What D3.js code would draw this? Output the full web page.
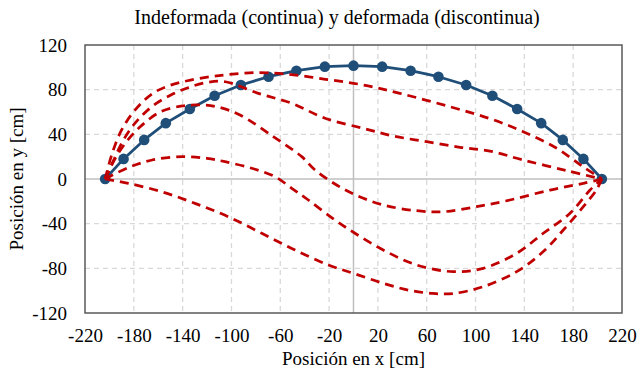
<!DOCTYPE html>
<html>
<head>
<meta charset="utf-8">
<script src="https://cdn.jsdelivr.net/npm/d3@7"></script>
<style>
  body { margin: 0; background: #ffffff; }
  svg text { font-family: "Times New Roman", "Liberation Serif", Times, "DejaVu Serif", serif; fill: #000; }
</style>
</head>
<body>
<svg id="chart" width="637" height="372"></svg>
<script>
const FONT = '"Times New Roman", "Liberation Serif", Times, "DejaVu Serif", serif';

// Axis ticks
const xTicks = [-220, -180, -140, -100, -60, -20, 20, 60, 100, 140, 180, 220];
const yTicks = [-120, -80, -40, 0, 40, 80, 120];

// Undeformed arch (nodes), in cm
const indefX = [-203.5, -188.4, -171.5, -153.8, -134.1, -113.8, -92.3, -69.6, -46.8, -23.5, 0,
                 23.5, 46.8, 69.6, 92.3, 113.8, 134.1, 153.8, 171.5, 188.4, 203.5];
const indefY = [0, 18, 35, 50, 62.7, 74.6, 84.2, 91.6, 97, 100.6, 101.5,
                100.6, 97, 91.6, 84.2, 74.6, 62.7, 50, 35, 18, 0];

// Deformed shapes (x, y) in cm
const deformada1 = [[-203.5, 0], [-198, 22], [-190, 44], [-178, 63], [-164, 77], [-150, 84], [-136, 88],
  [-118, 91.5], [-103, 93.5], [-81, 95.2], [-55, 94], [-23, 89.3], [8, 84.2], [38, 76.7], [79, 64.7],
  [112, 54], [139, 42.4], [166.5, 27.5], [188, 11], [203.5, 0]];
const deformada2 = [[-203.5, 0], [-196, 18], [-189, 34], [-179, 50], [-165, 65], [-150, 75], [-135, 82],
  [-120, 86.5], [-105, 87.1], [-78, 76.7], [-50.6, 67.8], [-23.3, 54.4], [8, 45.4], [32.6, 38.5],
  [60, 33.4], [87.3, 28.4], [111.8, 25], [139, 17], [174.7, 7.5], [203.5, 0]];
const deformada3 = [[-203.5, 0], [-196, 17], [-187, 32], [-175, 46.5], [-158.5, 60], [-140, 65.5],
  [-125.8, 66.3], [-112, 64.7], [-93, 57.3], [-65.7, 37.9], [-42.4, 20], [-31.5, 8], [-15.2, -4.5],
  [1.2, -14], [24.4, -23.3], [51.8, -28.4], [73.6, -29.3], [100.9, -24.8], [128.2, -18.8], [161, -9.9],
  [188.3, -3.9], [203.5, 0]];
const deformada4 = [[-203.5, 0], [-185, 10], [-165, 17], [-140, 20], [-120, 18.5], [-105.3, 15.5],
  [-83.4, 9.6], [-64.3, 2.1], [-50.6, -8.3], [-37, -18.8], [-15.2, -36.7], [1.2, -48.6], [24.4, -63.6],
  [51.8, -77], [81.8, -83], [106.3, -80], [133.7, -66.5], [155.5, -48.6], [177.4, -30.7],
  [193.8, -9.9], [203.5, 0]];
const deformada5 = [[-203.5, 0], [-184.5, -3.9], [-157.2, -11.4], [-129.9, -21.8], [-102.6, -33.8],
  [-75.2, -48.6], [-47.9, -63.6], [-20.6, -77], [0, -84.5], [24.4, -93.4], [45, -99.5], [65, -102.5],
  [82, -102.5], [106.3, -96.4], [133.7, -83], [155.5, -65], [171.9, -45.7], [188.3, -24.8],
  [199, -9.9], [203.5, 0]];
const deformadas = [deformada1, deformada2, deformada3, deformada4, deformada5];

const svg = d3.select("#chart");
const plot = { left: 85, right: 622, top: 45, bottom: 313 };

const x = d3.scaleLinear().domain([-220, 220]).range([plot.left, plot.right]);
const y = d3.scaleLinear().domain([-120, 120]).range([plot.bottom, plot.top]);

// Dashed gridlines
const grid = svg.append("g");
grid.selectAll("line.gx")
  .data(xTicks.filter(t => t > -220 && t < 220))
  .join("line")
  .attr("x1", d => x(d)).attr("x2", d => x(d))
  .attr("y1", plot.top).attr("y2", plot.bottom)
  .attr("stroke", "#d9d9d9").attr("stroke-width", 1.3).attr("stroke-dasharray", "5,4");
grid.selectAll("line.gy")
  .data(yTicks.filter(t => t > -120 && t < 120 && t !== 0))
  .join("line")
  .attr("x1", plot.left).attr("x2", plot.right)
  .attr("y1", d => y(d)).attr("y2", d => y(d))
  .attr("stroke", "#d9d9d9").attr("stroke-width", 1.3).attr("stroke-dasharray", "5,4");

// Zero axes
svg.append("line")
  .attr("x1", x(0)).attr("x2", x(0)).attr("y1", plot.top).attr("y2", plot.bottom)
  .attr("stroke", "#bfbfbf").attr("stroke-width", 1.5);
svg.append("line")
  .attr("x1", plot.left).attr("x2", plot.right).attr("y1", y(0)).attr("y2", y(0))
  .attr("stroke", "#bfbfbf").attr("stroke-width", 1.5);

// Plot frame
svg.append("rect")
  .attr("x", plot.left).attr("y", plot.top)
  .attr("width", plot.right - plot.left).attr("height", plot.bottom - plot.top)
  .attr("fill", "none").attr("stroke", "#595959").attr("stroke-width", 1.5);

// Tick labels via d3 axes (no tick lines or domain)
const xAxis = svg.append("g")
  .attr("transform", `translate(0,${plot.bottom})`)
  .call(d3.axisBottom(x).tickValues(xTicks).tickSize(0).tickPadding(16).tickFormat(d3.format("d")));
const yAxis = svg.append("g")
  .attr("transform", `translate(${plot.left},0)`)
  .call(d3.axisLeft(y).tickValues(yTicks).tickSize(0).tickPadding(18).tickFormat(d3.format("d")));
[xAxis, yAxis].forEach(a => {
  a.attr("font-family", FONT).attr("font-size", 19);
  a.select(".domain").remove();
  a.selectAll("text")
    .attr("font-family", FONT).attr("font-size", 19).attr("fill", "#000")
    .text(d => String(d).replace("\u2212", "-"));
});

// Undeformed arch: solid line with markers
const indef = indefX.map((v, i) => [v, indefY[i]]);
const line = d3.line().x(d => x(d[0])).y(d => y(d[1]));
svg.append("path")
  .datum(indef)
  .attr("d", line)
  .attr("fill", "none").attr("stroke", "#1f4e79").attr("stroke-width", 2.75)
  .attr("stroke-linejoin", "round");
svg.append("g").selectAll("circle")
  .data(indef)
  .join("circle")
  .attr("cx", d => x(d[0])).attr("cy", d => y(d[1])).attr("r", 5.3)
  .attr("fill", "#1f4e79");

// Deformed shapes: dashed smooth curves
const smooth = d3.line().x(d => x(d[0])).y(d => y(d[1])).curve(d3.curveCatmullRom.alpha(0.5));
svg.append("g").selectAll("path")
  .data(deformadas)
  .join("path")
  .attr("d", smooth)
  .attr("fill", "none").attr("stroke", "#c00000").attr("stroke-width", 2.75)
  .attr("stroke-dasharray", "9,6");

// Titles
svg.append("text")
  .attr("x", 337).attr("y", 24).attr("text-anchor", "middle")
  .attr("font-family", FONT).attr("font-size", 20)
  .text("Indeformada (continua) y deformada (discontinua)");
svg.append("text")
  .attr("x", (plot.left + plot.right) / 2).attr("y", 365).attr("text-anchor", "middle")
  .attr("font-family", FONT).attr("font-size", 19)
  .text("Posición en x [cm]");
svg.append("text")
  .attr("transform", `translate(23,${(plot.top + plot.bottom) / 2}) rotate(-90)`)
  .attr("text-anchor", "middle")
  .attr("font-family", FONT).attr("font-size", 19)
  .text("Posición en y [cm]");
</script>
</body>
</html>
